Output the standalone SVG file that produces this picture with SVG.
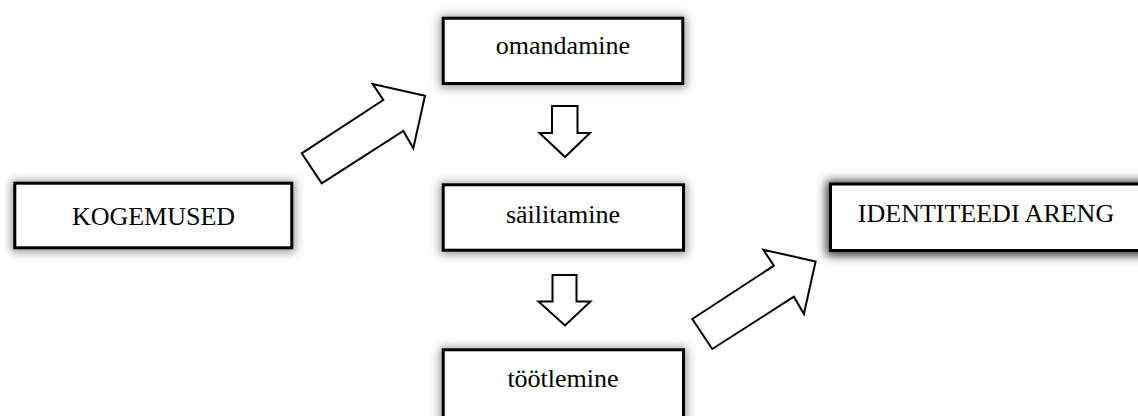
<svg xmlns="http://www.w3.org/2000/svg" width="1138" height="416" viewBox="0 0 1138 416">
<style>
.box{fill:#fff;stroke:#000;stroke-width:3}
.lbl{font-family:"Liberation Serif","Times New Roman",serif;font-size:26px;fill:#000;text-anchor:middle}
.arr{fill:#fff;stroke:#000;stroke-width:2;stroke-linejoin:miter}
</style>
<defs>
<filter id="sh" x="-20%" y="-50%" width="140%" height="200%">
<feMorphology in="SourceAlpha" operator="dilate" radius="2" result="d"/>
<feGaussianBlur in="d" stdDeviation="5" result="b"/>
<feOffset dx="0" dy="1" result="o"/>
<feFlood flood-color="#000" flood-opacity="0.4"/>
<feComposite in2="o" operator="in" result="s"/>
<feMerge><feMergeNode in="s"/><feMergeNode in="SourceGraphic"/></feMerge>
</filter>
<filter id="sh2" x="-20%" y="-50%" width="140%" height="200%">
<feMorphology in="SourceAlpha" operator="dilate" radius="3" result="d"/>
<feGaussianBlur in="d" stdDeviation="5" result="b"/>
<feOffset dx="0" dy="1" result="o"/>
<feFlood flood-color="#000" flood-opacity="0.75"/>
<feComposite in2="o" operator="in" result="s"/>
<feMerge><feMergeNode in="s"/><feMergeNode in="SourceGraphic"/></feMerge>
</filter>
</defs>
<rect width="1138" height="416" fill="#fff"/>
<g id="connectors">
<polygon class="arr" points="301.7,153.3 383.3,100 372.7,84 425,95.7 413.3,148.3 403.3,131 321.7,183.3"/>
<polygon class="arr" points="692.3,319 773.9,265.7 763.3,249.7 815.6,261.4 803.9,314 793.9,296.7 712.3,349"/>
<polygon class="arr" points="552,106 577.5,106 577.5,133 590,133 565,157 539.5,133 552,133"/>
<polygon class="arr" points="552.5,275 576.5,275 576.5,301.5 590.5,301.5 565,325.5 538.5,301.5 552.5,301.5"/>
</g>
<g id="node-kogemused">
<rect class="box" x="14.8" y="183.2" width="277" height="64.6" filter="url(#sh)"/>
<text class="lbl" x="153.5" y="225">KOGEMUSED</text>
</g>
<g id="node-omandamine">
<rect class="box" x="443.2" y="18.2" width="239.6" height="65.3" filter="url(#sh)"/>
<text class="lbl" x="563" y="54">omandamine</text>
</g>
<g id="node-sailitamine">
<rect class="box" x="443.2" y="184.8" width="240.3" height="65.4" filter="url(#sh)"/>
<text class="lbl" x="563" y="223.3">säilitamine</text>
</g>
<g id="node-tootlemine">
<rect class="box" x="443.2" y="349.8" width="240.3" height="80" filter="url(#sh)"/>
<text class="lbl" x="563" y="386.7">töötlemine</text>
</g>
<g id="node-identiteedi">
<rect class="box" x="830.5" y="184" width="330" height="66.5" stroke-width="4.5" filter="url(#sh2)"/>
<text class="lbl" x="986" y="221.7">IDENTITEEDI ARENG</text>
</g>
</svg>
